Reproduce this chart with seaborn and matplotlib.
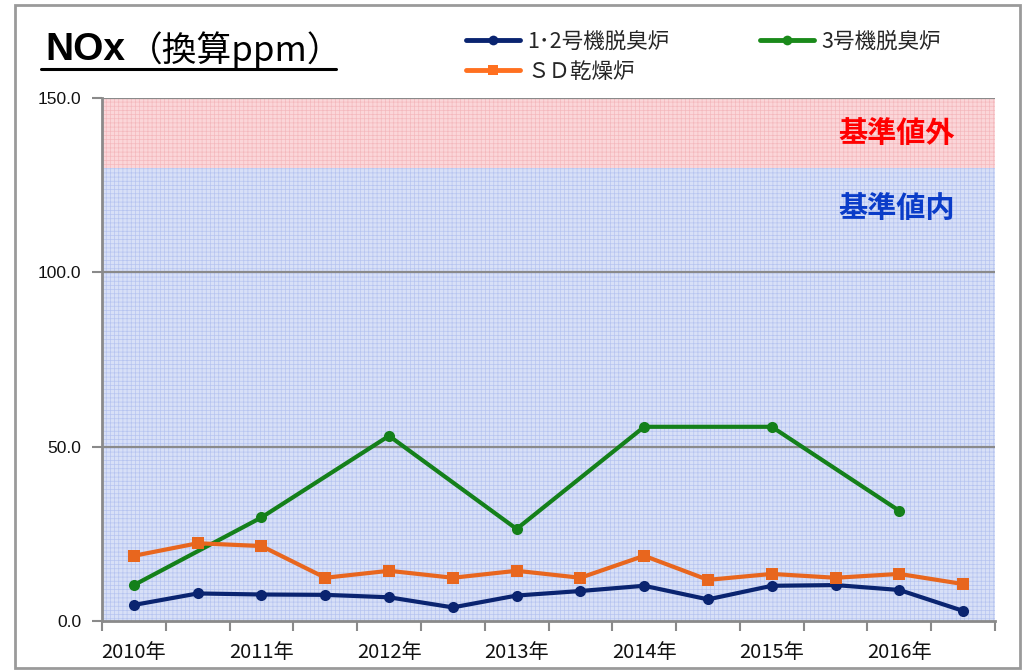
import numpy as np
import pandas as pd
import matplotlib
matplotlib.use("Agg")
import matplotlib.pyplot as plt
from matplotlib.lines import Line2D
from matplotlib.patches import Rectangle
import seaborn as sns

# ---- data ----
period_labels = ["2010年", "", "2011年", "", "2012年", "", "2013年", "",
                 "2014年", "", "2015年", "", "2016年", ""]
series_names = ["1･2号機脱臭炉", "3号機脱臭炉", "ＳＤ乾燥炉"]
nox_12 = [4.6, 7.9, 7.6, 7.5, 6.8, 3.9, 7.3, 8.6, 10.1, 6.2, 10.1, 10.3, 8.9, 2.9]
nox_3 = [10.3, None, 29.7, None, 53.1, None, 26.4, None, 55.7, None, 55.7, None, 31.6, None]
nox_sd = [18.7, 22.3, 21.5, 12.4, 14.4, 12.4, 14.4, 12.4, 18.7, 11.8, 13.5, 12.4, 13.5, 10.6]
limit_value = 130.0
y_max = 150.0
y_ticks = [0.0, 50.0, 100.0, 150.0]

colors = {"1･2号機脱臭炉": "#0a2470", "3号機脱臭炉": "#14801a", "ＳＤ乾燥炉": "#e8661e"}
legend_colors = {"1･2号機脱臭炉": "#0a2470", "3号機脱臭炉": "#1a8a1a", "ＳＤ乾燥炉": "#ff7020"}
markers = {"1･2号機脱臭炉": "o", "3号機脱臭炉": "o", "ＳＤ乾燥炉": "s"}

rows = []
for name, vals in zip(series_names, [nox_12, nox_3, nox_sd]):
    for i, v in enumerate(vals):
        if v is not None:
            rows.append({"pos": i + 0.5, "value": v, "series": name})
df = pd.DataFrame(rows)

sns.set_theme(style="white")
plt.rcParams["font.family"] = ["Noto Sans CJK JP", "DejaVu Sans"]
plt.rcParams["hatch.linewidth"] = 0.5

fig = plt.figure(figsize=(10.26, 6.70), dpi=100)
ax = fig.add_axes([102 / 1026, 1 - 621 / 670, (995 - 102) / 1026, (621 - 98) / 670])

n = len(period_labels)
# background zones
ax.axhspan(0, limit_value, facecolor="#d8e0f7", edgecolor="#b6c4f0", hatch="++++", linewidth=0, zorder=0)
ax.axhspan(limit_value, y_max, facecolor="#fbd6d9", edgecolor="#f4b8bd", hatch="++++", linewidth=0, zorder=0)

for yv in y_ticks[1:]:
    ax.axhline(yv, color="#8a8a8a", lw=1.6, zorder=1)

sns.lineplot(data=df, x="pos", y="value", hue="series", style="series",
             hue_order=series_names, style_order=series_names,
             palette=colors, markers=markers, dashes=False,
             linewidth=3.0, markersize=8, markeredgewidth=0,
             legend=False, ax=ax, zorder=3, sort=True, estimator=None)
for line in ax.get_lines():
    if line.get_marker() == "s":
        line.set_markersize(9)

ax.set_xlim(0, n)
ax.set_ylim(0, y_max)
ax.set_xlabel("")
ax.set_ylabel("")

ax.set_yticks(y_ticks)
ax.set_yticklabels([f"{v:.1f}" for v in y_ticks], fontsize=12.5, color="#111111")
ax.set_xticks(np.arange(0, n + 1))
ax.set_xticklabels([])
ax.set_xticks(np.arange(n) + 0.5, minor=True)
ax.set_xticklabels(period_labels, minor=True, fontsize=14.5, color="#111111")
ax.tick_params(axis="x", which="major", direction="out", length=7, width=1.5, color="#8a8a8a", bottom=True)
ax.tick_params(axis="x", which="minor", length=0, pad=15)
ax.tick_params(axis="y", direction="out", length=7, width=1.5, color="#8a8a8a", left=True, pad=8,
               labelfontfamily="Liberation Sans")

for s in ["top", "right"]:
    ax.spines[s].set_visible(False)
for s in ["left", "bottom"]:
    ax.spines[s].set_color("#8a8a8a")
    ax.spines[s].set_linewidth(2)

ax.text(12.46, 140, "基準値外", color="#ff0000", fontsize=21, fontweight="bold",
        ha="center", va="center", zorder=4)
ax.text(12.46, 118.4, "基準値内", color="#0a3cc8", fontsize=21, fontweight="bold",
        ha="center", va="center", zorder=4)

# title with underline
fig.text(45 / 1026, 1 - 50 / 670, "NOx", fontsize=28, fontweight="bold",
         ha="left", va="center", color="#000000", family="Liberation Sans")
fig.text(128 / 1026, 1 - 50 / 670, "（換算ppm）", fontsize=25,
         ha="left", va="center", color="#000000")
fig.add_artist(Line2D([41 / 1026, 336 / 1026], [1 - 69 / 670, 1 - 69 / 670],
                      color="#000000", lw=2.2))

# legend (column-major fill: col1 = 1･2, SD ; col2 = 3号)
leg_order = ["1･2号機脱臭炉", "ＳＤ乾燥炉", "3号機脱臭炉"]
handles = [Line2D([0], [0], color=legend_colors[s], marker=markers[s], lw=3.5, markersize=7,
                  markeredgewidth=0) for s in leg_order]
fig.legend(handles, leg_order, loc="upper left", bbox_to_anchor=(466 / 1026, 1 - 31 / 670),
           ncol=2, frameon=False, fontsize=15.5, handlelength=2.5, handletextpad=0.35,
           columnspacing=4.2, labelspacing=0.35, borderpad=0, borderaxespad=0)

# outer frame
fig.add_artist(Rectangle((15 / 1026, 1 - 668 / 670), (1020 - 15) / 1026, (668 - 5) / 670,
                         transform=fig.transFigure, fill=False, edgecolor="#9a9a9a", lw=2))

fig.savefig("out.png", dpi=100)
